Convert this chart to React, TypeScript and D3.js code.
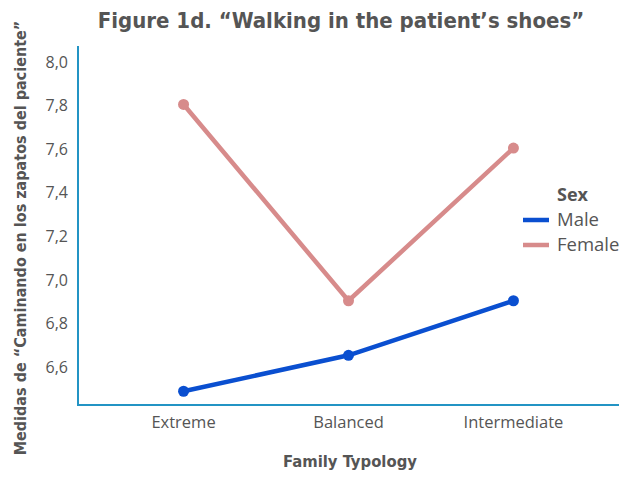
import React from 'react';
import * as d3 from 'd3';

const categories = ['Extreme', 'Balanced', 'Intermediate'];
const maleValues = [6.49, 6.655, 6.905];
const femaleValues = [7.805, 6.905, 7.605];
const yTicks = [6.6, 6.8, 7.0, 7.2, 7.4, 7.6, 7.8, 8.0];
const seriesNames = ['Male', 'Female'];

const width = 637;
const height = 477;
const left = 78;
const right = 619;
const top = 46;
const bottom = 405;

const colors = { Male: '#0a4fd0', Female: '#d78b8b' };
const axisColor = '#2394c4';
const textColor = '#555';

export default function App() {
    const x = d3.scalePoint().domain(categories).range([left, right]).padding(0.64);
    const y = d3.scaleLinear().domain([6.427, 8.073]).range([bottom, top]);

    const line = d3
        .line<[string, number]>()
        .x((d) => x(d[0]))
        .y((d) => y(d[1]));

    const series = [
        { name: 'Male', values: maleValues },
        { name: 'Female', values: femaleValues },
    ];

    const fmt = (v: number) => v.toFixed(1).replace('.', ',');

    return (
        <svg
            width={width}
            height={height}
            style={{ position: 'absolute', left: 0, top: 0, background: '#fff' }}
        >
            <text
                x={341}
                y={28}
                textAnchor="middle"
                fontFamily="'DejaVu Sans Condensed', 'DejaVu Sans', sans-serif"
                fontWeight="bold"
                fontSize={22}
                fill={textColor}
            >
                Figure 1d. “Walking in the patient’s shoes”
            </text>

            {yTicks.map((t) => (
                <text
                    key={t}
                    x={68}
                    y={y(t)}
                    dy="0.35em"
                    textAnchor="end"
                    fontFamily="'Open Sans', sans-serif"
                    fontSize={16}
                    fill={textColor}
                >
                    {fmt(t)}
                </text>
            ))}

            {categories.map((c) => (
                <text
                    key={c}
                    x={x(c)}
                    y={428}
                    textAnchor="middle"
                    fontFamily="'Open Sans', sans-serif"
                    fontSize={16.5}
                    fill={textColor}
                >
                    {c}
                </text>
            ))}

            <path
                d={`M${left},${top}V${bottom}H${right}`}
                fill="none"
                stroke={axisColor}
                strokeWidth={2}
            />

            {series.map((s) => {
                const pts = categories.map((c, i) => [c, s.values[i]] as [string, number]);
                return (
                    <g key={s.name}>
                        <path
                            d={line(pts) || ''}
                            fill="none"
                            stroke={colors[s.name]}
                            strokeWidth={4.5}
                        />
                        {pts.map((p) => (
                            <circle
                                key={p[0]}
                                cx={x(p[0])}
                                cy={y(p[1])}
                                r={5.5}
                                fill={colors[s.name]}
                            />
                        ))}
                    </g>
                );
            })}

            <text
                x={350}
                y={467}
                textAnchor="middle"
                fontFamily="'DejaVu Sans Condensed', 'DejaVu Sans', sans-serif"
                fontWeight="bold"
                fontSize={16.5}
                fill={textColor}
            >
                Family Typology
            </text>

            <text
                transform={`translate(26, 238) rotate(-90)`}
                textAnchor="middle"
                fontFamily="'DejaVu Sans Condensed', 'DejaVu Sans', sans-serif"
                fontWeight="bold"
                fontSize={16}
                fill={textColor}
            >
                Medidas de “Caminando en los zapatos del paciente”
            </text>

            <text
                x={557}
                y={201}
                fontFamily="'Open Sans', sans-serif"
                fontWeight="bold"
                fontSize={18}
                fill={textColor}
            >
                Sex
            </text>
            {seriesNames.map((n, i) => (
                <g key={n} transform={`translate(523, ${220 + i * 25})`}>
                    <line x1={0} x2={26} y1={0} y2={0} stroke={colors[n]} strokeWidth={4.5} />
                    <text
                        x={34}
                        y={0}
                        dy="0.35em"
                        fontFamily="'Open Sans', sans-serif"
                        fontSize={18.5}
                        fill={textColor}
                    >
                        {n}
                    </text>
                </g>
            ))}
        </svg>
    );
}
